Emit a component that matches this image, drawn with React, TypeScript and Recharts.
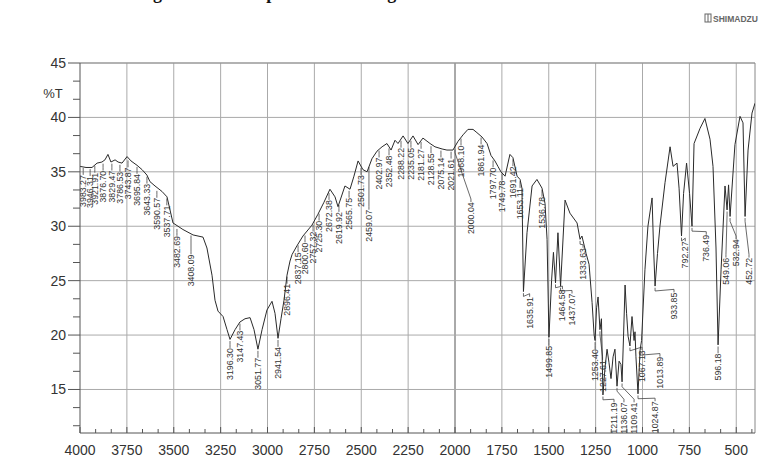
import React from 'react';
import { ComposedChart, Line, Scatter, XAxis, YAxis, ReferenceLine } from 'recharts';

// Spectrum: wavenumber (cm-1) and %T
const wavenumbers = [
  4000, 3968, 3936, 3909, 3883, 3867, 3851, 3835, 3813, 3797, 3776, 3749, 3728, 3696, 3669, 3643, 3627, 3600, 3563, 3536,
  3520, 3504, 3451, 3397, 3344, 3323, 3296, 3280, 3264, 3237, 3216, 3200, 3173, 3147, 3120, 3093, 3072, 3051, 3029, 3003,
  2976, 2960, 2944, 2928, 2912, 2896, 2880, 2869, 2843, 2811, 2763, 2731, 2699, 2667, 2640, 2624, 2587, 2560, 2539, 2517,
  2491, 2469, 2443, 2416, 2389, 2363, 2341, 2320, 2304, 2277, 2251, 2224, 2197, 2171, 2133, 2107, 2069, 2043, 2011, 1984,
  1957, 1931, 1904, 1883, 1856, 1829, 1808, 1787, 1771, 1755, 1733, 1707, 1691, 1669, 1653, 1643, 1635, 1616, 1589, 1563,
  1536, 1520, 1509, 1499, 1485, 1475, 1464, 1451, 1437, 1413, 1387, 1349, 1333, 1323, 1301, 1285, 1269, 1258, 1253, 1245,
  1237, 1227, 1219, 1211, 1200, 1189, 1179, 1168, 1157, 1147, 1136, 1125, 1115, 1109, 1101, 1093, 1085, 1077, 1067, 1056,
  1045, 1040, 1035, 1024, 1013, 1005, 987, 971, 949, 941, 933, 920, 907, 880, 853, 837, 816, 805, 792, 781,
  765, 749, 736, 725, 693, 667, 640, 624, 608, 597, 581, 560, 549, 541, 533, 507, 480, 464, 453, 437,
  416, 400,
];
const transmittance = [
  35.5, 35.4, 35.4, 35.8, 35.9, 36.1, 36.6, 35.9, 36.1, 35.9, 35.8, 36.4, 36.0, 35.6, 35.2, 34.7, 34.1, 33.7, 33.2, 32.7,
  31.5, 30.3, 29.7, 29.2, 29.0, 28.0, 25.5, 23.2, 22.2, 21.7, 20.5, 19.6, 20.5, 21.2, 21.5, 21.6, 20.5, 18.7, 20.5, 22.3,
  23.1, 22.0, 19.7, 21.5, 23.2, 25.5, 26.8, 27.4, 28.2, 29.1, 30.1, 31.1, 32.2, 33.4, 32.7, 31.8, 33.7, 33.4, 34.6, 36.0,
  35.2, 35.0, 36.2, 36.9, 37.3, 37.6, 37.0, 37.9, 37.6, 38.3, 37.6, 38.3, 37.5, 38.1, 37.6, 37.3, 37.1, 37.0, 37.0, 37.8,
  38.4, 38.9, 38.9, 38.6, 38.2, 37.6, 36.5, 36.0, 35.5, 35.0, 34.6, 36.6, 36.3, 34.6, 34.3, 33.5, 24.0, 29.4, 33.7, 34.3,
  33.5, 32.1, 28.8, 19.8, 25.0, 27.6, 24.8, 29.4, 24.5, 32.4, 31.2, 30.3, 28.8, 29.1, 27.5, 26.5, 23.0, 20.0, 19.5, 22.5,
  23.5, 20.5, 21.5, 14.5, 17.0, 18.7, 17.5, 16.0, 18.0, 18.7, 15.3, 17.6, 17.3, 15.7, 20.0, 24.6, 22.0, 19.9, 19.0, 21.7,
  19.5, 20.3, 18.0, 14.6, 18.6, 19.5, 26.0, 30.0, 32.6, 28.0, 24.5, 27.5, 30.0, 34.0, 37.3, 35.5, 35.8, 33.5, 29.1, 33.0,
  35.8, 33.0, 30.0, 37.6, 39.0, 39.9, 38.0, 35.5, 28.0, 19.1, 26.0, 33.7, 31.5, 33.8, 30.9, 37.5, 40.1, 39.5, 30.9, 37.0,
  40.4, 41.3,
];

// Peak labels: [peak wavenumber, %T at peak, text, label wavenumber?, label %T?]
const peakLabels: [number, number, string, number?, number?][] = [
  [3983, 35.5, '3983.27'], [3946, 35.4, '3946.31'], [3921, 35.7, '3921.91'], [3877, 35.9, '3876.70'],
  [3830, 35.9, '3829.47'], [3787, 35.8, '3786.53'], [3744, 36.2, '3743.87'], [3696, 35.6, '3695.84'],
  [3643, 34.7, '3643.33'], [3590, 33.4, '3590.57'], [3537, 32.7, '3537.71'], [3483, 29.9, '3482.69'],
  [3408, 29.3, '3408.09', 3408, 27.4],
  [3200, 19.6, '3196.30'], [3147, 21.2, '3147.43'], [3051, 18.7, '3051.77'], [2944, 19.7, '2941.54'],
  [2896, 25.5, '2896.41'], [2837, 28.4, '2837.15'], [2800, 29.3, '2800.60'], [2757, 30.3, '2757.32'],
  [2725, 31.3, '2725.30'], [2672, 33.2, '2672.38'], [2619, 32.1, '2619.92'], [2565, 33.4, '2565.75'],
  [2501, 35.5, '2501.73'], [2459, 35.6, '2459.07', 2459, 31.5], [2405, 37.1, '2402.97'], [2352, 37.3, '2352.48'],
  [2288, 38.0, '2288.22'], [2235, 38.0, '2235.05'], [2181, 37.9, '2181.27'], [2128, 37.5, '2128.55'],
  [2075, 37.1, '2075.14'], [2021, 37.0, '2021.61'], [1968, 38.2, '1968.10'], [2000, 37.2, '2000.04', 1915, 32.2],
  [1861, 38.3, '1861.94'], [1797, 36.2, '1797.70'], [1749, 35.0, '1749.78'], [1691, 36.3, '1691.42'],
  [1653, 34.3, '1653.11'], [1635, 24.0, '1635.91', 1602, 23.5], [1536, 33.5, '1536.78'], [1499, 19.8, '1499.85'],
  [1464, 24.8, '1464.58', 1427, 24.2], [1437, 24.5, '1437.07', 1376, 23.8], [1333, 28.8, '1333.63', 1317, 28.0],
  [1253, 19.5, '1253.40'], [1227, 20.5, '1227.61', 1213, 17.7], [1211, 14.5, '1211.19', 1152, 13.8],
  [1136, 15.3, '1136.07', 1099, 13.8], [1109, 15.7, '1109.41', 1045, 13.8], [1067, 19.0, '1067.13', 1003, 18.6],
  [1024, 14.6, '1024.87', 933, 13.9], [1013, 18.6, '1013.89', 907, 18.0], [933, 24.5, '933.85', 832, 23.9],
  [792, 29.1, '792.27', 772, 28.6], [736, 30.0, '736.49', 660, 29.2], [597, 19.1, '596.18'],
  [549, 31.5, '549.06', 555, 27.1], [533, 30.9, '532.94', 501, 28.8], [453, 30.9, '452.72', 432, 27.1],
];

const majorXTicks = [4000, 3750, 3500, 3250, 3000, 2750, 2500, 2250, 2000, 1750, 1500, 1250, 1000, 750, 500];
const majorYTicks = [45, 40, 35, 30, 25, 20, 15];
const xDomain = [400, 4000];
const yDomain = [11, 45];

const spectrum = wavenumbers.map((wn, i) => ({ wn, t: transmittance[i] }));
const labelPoints = peakLabels.map(([wn, t, text, lw, lt]) => ({
  wn: lw ?? wn,
  t: lt ?? t - 0.8,
  text,
  pw: wn,
  pt: t,
}));

const xTicks: number[] = [];
for (let k = 0; 4000 - (k * 250) / 3 >= 400; k++) xTicks.push(4000 - (k * 250) / 3);
const yTicks: number[] = [];
for (let k = 0; 45 - (k * 5) / 3 >= 11; k++) yTicks.push(45 - (k * 5) / 3);

const FONT = "'Liberation Sans', Arial, sans-serif";

const XTick = (props: any) => {
  const { x, y, payload } = props;
  const v = payload.value;
  const major = Math.abs(v / 250 - Math.round(v / 250)) < 1e-6;
  return (
    <g>
      <line x1={x} x2={x} y1={y} y2={y - (major ? 6 : 4)} stroke="#555" strokeWidth={1} />
      {major && (
        <text x={x} y={y + 22} textAnchor="middle" fontSize={14} fill="#333" fontFamily={FONT}>
          {Math.round(v)}
        </text>
      )}
    </g>
  );
};

const YTick = (props: any) => {
  const { x, y, payload } = props;
  const v = payload.value;
  const major = Math.abs(v / 5 - Math.round(v / 5)) < 1e-6;
  return (
    <g>
      <line x1={x - (major ? 12 : 7)} x2={x} y1={y} y2={y} stroke="#555" strokeWidth={1} />
      {major && (
        <text x={x - 14} y={y} textAnchor="end" dominantBaseline="central" fontSize={14} fill="#333" fontFamily={FONT}>
          {Math.round(v)}
        </text>
      )}
    </g>
  );
};

const PeakText = (props: any) => {
  const { cx, cy, payload } = props;
  if (cx == null || cy == null) return <g />;
  return (
    <text
      x={cx}
      y={cy}
      transform={`rotate(-90 ${cx} ${cy})`}
      textAnchor="end"
      dominantBaseline="central"
      fontSize={8.8}
      fill="#333"
      fontFamily={FONT}
    >
      {payload.text}
    </text>
  );
};

export default function App() {
  return (
    <div style={{ position: 'absolute', left: 0, top: 0, width: 760, height: 457, background: '#fff' }}>
      <ComposedChart
        width={760}
        height={457}
        data={spectrum}
        margin={{ top: 63, right: 5, bottom: 0, left: 0 }}
      >
        <XAxis
          dataKey="wn"
          type="number"
          domain={xDomain}
          reversed
          ticks={xTicks}
          interval={0}
          tick={(p: any) => <XTick {...p} />}
          tickLine={false}
          tickSize={0}
          tickMargin={0}
          axisLine={{ stroke: '#555' }}
          height={24}
          allowDataOverflow
        />
        <YAxis
          type="number"
          domain={yDomain}
          ticks={yTicks}
          interval={0}
          tick={(p: any) => <YTick {...p} />}
          tickLine={false}
          tickSize={0}
          tickMargin={0}
          axisLine={{ stroke: '#555' }}
          width={80}
          allowDataOverflow
        />
        {majorXTicks.slice(1).map((v) => (
          <ReferenceLine key={'gx' + v} x={v} stroke={v === 2000 ? '#555' : '#aaa'} strokeWidth={1} />
        ))}
        {majorYTicks.slice(1).map((v) => (
          <ReferenceLine key={'gy' + v} y={v} stroke="#aaa" strokeWidth={1} />
        ))}
        <ReferenceLine y={45} stroke="#999" strokeWidth={1.5} />
        <ReferenceLine x={400} stroke="#888" strokeWidth={1} />
        {labelPoints.map((l, i) => (
          <ReferenceLine
            key={'la' + i}
            segment={[
              { x: l.pw, y: l.pt - 0.15 },
              { x: l.pw, y: l.pt - 0.45 },
            ]}
            stroke="#444"
            strokeWidth={0.8}
          />
        ))}
        {labelPoints.map((l, i) => (
          <ReferenceLine
            key={'lb' + i}
            segment={[
              { x: l.pw, y: l.pt - 0.45 },
              { x: l.wn, y: l.t + 0.3 },
            ]}
            stroke="#444"
            strokeWidth={0.8}
          />
        ))}
        {labelPoints.map((l, i) => (
          <ReferenceLine
            key={'lc' + i}
            segment={[
              { x: l.wn, y: l.t + 0.3 },
              { x: l.wn, y: l.t + 0.02 },
            ]}
            stroke="#444"
            strokeWidth={0.8}
          />
        ))}
        <Line
          type="linear"
          dataKey="t"
          stroke="#2a2a2a"
          strokeWidth={1}
          dot={false}
          isAnimationActive={false}
        />
        <Scatter data={labelPoints} dataKey="t" isAnimationActive={false} shape={(p: any) => <PeakText {...p} />} />
      </ComposedChart>
      <svg width={760} height={457} style={{ position: 'absolute', left: 0, top: 0, pointerEvents: 'none' }}>
        <text x={137} y={-1.5} fontFamily="'Liberation Serif', serif" fontWeight="bold" fontSize={18} fill="#111">
          Figure 3: FTIR spectrum of sludge
        </text>
        <rect x={705} y={14} width={6} height={8} fill="none" stroke="#666" strokeWidth={1} />
        <line x1={708} x2={708} y1={14} y2={22} stroke="#666" strokeWidth={1} />
        <text x={713} y={22} fontFamily={FONT} fontWeight="bold" fontSize={8.5} fill="#666">
          SHIMADZU
        </text>
        <text x={53} y={98} textAnchor="middle" fontFamily={FONT} fontSize={13} fill="#333">
          %T
        </text>
      </svg>
    </div>
  );
}
